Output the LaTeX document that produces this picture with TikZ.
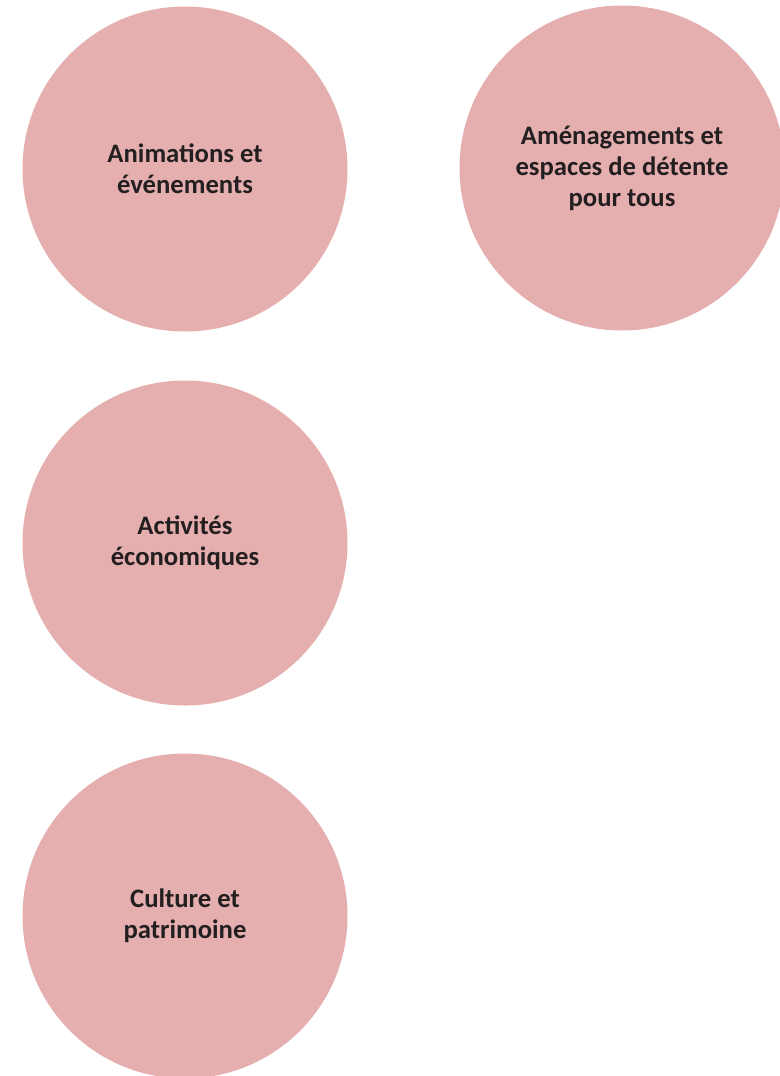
\documentclass[tikz,border=0pt]{standalone}
\usepackage{fontspec}
\setmainfont{Carlito}
\definecolor{rosepale}{HTML}{E6AFAF}
\definecolor{texte}{HTML}{231F20}

\begin{document}
\begin{tikzpicture}[x=0.75pt,y=-0.75pt]
   \useasboundingbox (0,0) rectangle (780,1076);
   \tikzstyle{theme}=[circle, fill=rosepale, minimum size=243.75pt, inner sep=0pt, text=texte, align=center, font=\fontsize{20}{23.3}\selectfont\bfseries]
   \node[theme] (animations) at (185,169) {Animations et\\événements};
   \node[theme] (amenagements) at (622,168) {Aménagements et\\espaces de détente\\pour tous};
   \node[theme] (activites) at (185,543) {Activités\\économiques};
   \node[theme] (culture) at (185,916) {Culture et\\patrimoine};
\end{tikzpicture}
\end{document}
